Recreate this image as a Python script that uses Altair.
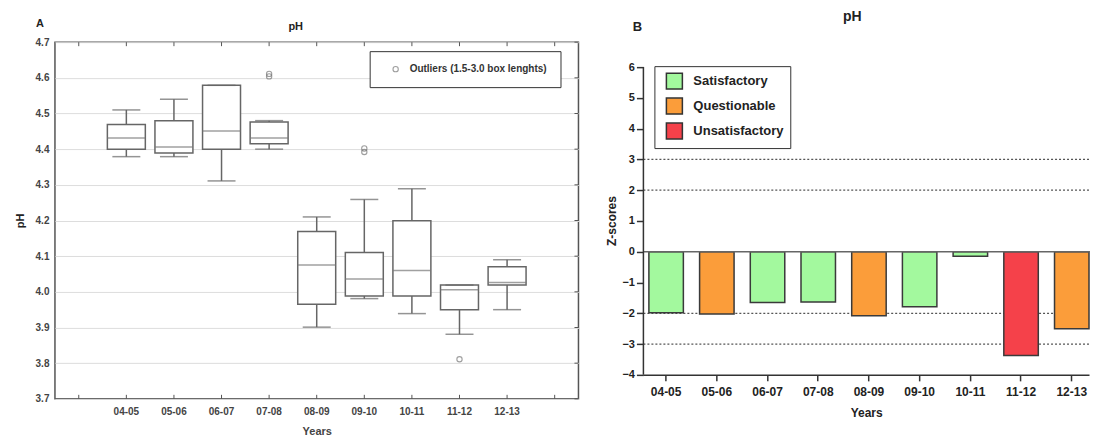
import altair as alt
import pandas as pd

FONT = "Liberation Sans"

# ---------------- data ----------------
years = ["04-05", "05-06", "06-07", "07-08", "08-09", "09-10", "10-11", "11-12", "12-13"]
whisker_low = [4.379, 4.379, 4.311, 4.400, 3.901, 3.981, 3.939, 3.881, 3.950]
q1 = [4.400, 4.389, 4.400, 4.415, 3.965, 3.988, 3.988, 3.950, 4.019]
median = [4.431, 4.406, 4.451, 4.431, 4.075, 4.036, 4.060, 4.006, 4.026]
q3 = [4.469, 4.480, 4.579, 4.476, 4.169, 4.110, 4.199, 4.019, 4.070]
whisker_high = [4.510, 4.540, 4.579, 4.480, 4.210, 4.259, 4.289, 4.019, 4.090]
outlier_years = ["07-08", "07-08", "09-10", "09-10", "11-12"]
outlier_values = [4.611, 4.604, 4.402, 4.392, 3.811]
outlier_label = "Outliers (1.5-3.0 box lenghts)"
ph_ticks = [3.7, 3.8, 3.9, 4.0, 4.1, 4.2, 4.3, 4.4, 4.5, 4.6, 4.7]

zscores = [-1.98, -2.02, -1.65, -1.63, -2.08, -1.79, -0.15, -3.37, -2.50]
ratings = ["Satisfactory", "Questionable", "Satisfactory", "Satisfactory", "Questionable",
           "Satisfactory", "Satisfactory", "Unsatisfactory", "Questionable"]
rating_order = ["Satisfactory", "Questionable", "Unsatisfactory"]
rating_colors = ["#a3f99e", "#fb9d3a", "#f5414a"]
limit_lines = [3, 2, -2, -3]
z_ticks = [-4, -3, -2, -1, 0, 1, 2, 3, 4, 5, 6]

# ---------------- panel A ----------------
WA, HA = 524, 357
domA = ["_a"] + years + ["_b"]
box_df = pd.DataFrame({"year": years, "lo": whisker_low, "q1": q1, "med": median,
                       "q3": q3, "hi": whisker_high})
out_df = pd.DataFrame({"year": outlier_years, "v": outlier_values,
                       "kind": [outlier_label] * len(outlier_values)})
slots_df = pd.DataFrame({"year": domA})
yt_df = pd.DataFrame({"v": ph_ticks})

xA = alt.X("year:N",
           scale=alt.Scale(domain=domA, paddingInner=0, paddingOuter=0),
           axis=alt.Axis(title="Years", labelExpr="indexof(datum.value, '_') >= 0 ? '' : datum.value",
                         ticks=False, domain=False, labelAngle=0, labelFont=FONT,
                         labelFontSize=10, labelFontWeight="bold", labelColor="#444",
                         labelPadding=8, titleFont=FONT, titleFontSize=11,
                         titleFontWeight="bold", titleColor="#444", titlePadding=9))
yscaleA = alt.Scale(domain=[3.7, 4.7], nice=False, zero=False)
yaxisA = alt.Axis(title="pH", values=ph_ticks, format=".1f", grid=True, gridColor="#dddddd",
                  gridWidth=1, ticks=False, domain=False, labelFont=FONT, labelFontSize=10,
                  labelFontWeight="bold", labelColor="#444", labelPadding=6,
                  titleFont=FONT, titleFontSize=11, titleFontWeight="bold",
                  titleColor="#222", titlePadding=10)

whisk = alt.Chart(box_df).mark_rule(color="#666", strokeWidth=1.5).encode(
    x=xA, y=alt.Y("lo:Q", scale=yscaleA, axis=yaxisA), y2="hi:Q")
box = alt.Chart(box_df).mark_bar(size=38, fill="white", stroke="#666", strokeWidth=1.5).encode(
    x=xA, y=alt.Y("q1:Q", scale=yscaleA, axis=yaxisA), y2="q3:Q")
med = alt.Chart(box_df).mark_tick(size=38, thickness=1.5, color="#777").encode(
    x=xA, y=alt.Y("med:Q", scale=yscaleA, axis=yaxisA))
cap_hi = alt.Chart(box_df).mark_tick(size=28, thickness=1.5, color="#666").encode(
    x=xA, y=alt.Y("hi:Q", scale=yscaleA, axis=yaxisA))
cap_lo = alt.Chart(box_df).mark_tick(size=28, thickness=1.5, color="#666").encode(
    x=xA, y=alt.Y("lo:Q", scale=yscaleA, axis=yaxisA))
outl = alt.Chart(out_df).mark_point(filled=False, size=28, strokeWidth=1.1, color="#777").encode(
    x=xA, y=alt.Y("v:Q", scale=yscaleA, axis=yaxisA),
    shape=alt.Shape("kind:N", scale=alt.Scale(range=["circle"]),
                    legend=alt.Legend(title=None, orient="none", legendX=315, legendY=9,
                                      strokeColor="#333", fillColor="white", padding=13,
                                      symbolOffset=8, symbolSize=28, symbolStrokeColor="#777",
                                      symbolStrokeWidth=1.1, labelFont=FONT, labelFontSize=10,
                                      labelFontWeight="bold", labelColor="#333", labelOffset=9)))
tick_bot = alt.Chart(slots_df).mark_rule(color="#555", strokeWidth=1).encode(
    x=xA, y=alt.value(HA), y2=alt.value(HA - 4))
tick_top = alt.Chart(slots_df).mark_rule(color="#555", strokeWidth=1).encode(
    x=xA, y=alt.value(0), y2=alt.value(4))
tick_right = alt.Chart(yt_df).mark_rule(color="#555", strokeWidth=1).encode(
    y=alt.Y("v:Q", scale=yscaleA, axis=yaxisA), x=alt.value(WA - 4), x2=alt.value(WA))
labA = alt.Chart(pd.DataFrame({"t": ["A"]})).mark_text(
    text="A", font=FONT, fontSize=11, fontWeight="bold", color="#222", align="center",
    baseline="middle").encode(x=alt.value(-15), y=alt.value(-18))
titleA = alt.Chart(pd.DataFrame({"t": ["pH"]})).mark_text(
    text="pH", font=FONT, fontSize=11, fontWeight="bold", color="#222", align="center",
    baseline="middle").encode(x=alt.value(241), y=alt.value(-15))

panelA = alt.layer(tick_right, whisk, box, med, cap_hi, cap_lo, outl, tick_bot, tick_top,
                   labA, titleA).properties(
    width=WA, height=HA,
    view=alt.ViewBackground(stroke="#555", strokeWidth=1.5))

# ---------------- panel B ----------------
WB, HB = 446, 357
bar_df = pd.DataFrame({"year": years, "z": zscores, "rating": ratings})
lim_df = pd.DataFrame({"v": limit_lines})
one_df = pd.DataFrame({"a": [0]})

yscaleB = alt.Scale(domain=[-4.78, 6.81], nice=False, zero=False)
yaxisB = alt.Axis(title="Z-scores", values=z_ticks, format="d", grid=False, domain=False,
                  ticks=True, tickSize=7, tickColor="#333", tickWidth=1.5, labelFont=FONT,
                  labelFontSize=11, labelFontWeight="bold", labelColor="#222", labelPadding=2,
                  labelOverlap=False, titleFont=FONT, titleFontSize=12, titleFontWeight="bold",
                  titleColor="#222", titlePadding=3)
xB = alt.X("year:N", sort=years,
           scale=alt.Scale(domain=years, paddingInner=0.32, paddingOuter=0.054, align=1),
           axis=alt.Axis(title="Years", labelAngle=0, offset=-24, domainColor="#333",
                         domainWidth=1.5, tickColor="#333", tickWidth=1.5, tickSize=6,
                         labelFont=FONT, labelFontSize=12, labelFontWeight="bold",
                         labelColor="#222", labelPadding=6, titleFont=FONT, titleFontSize=12,
                         titleFontWeight="bold", titleColor="#222", titlePadding=10))

lims = alt.Chart(lim_df).mark_rule(color="#555", strokeWidth=1.3, strokeDash=[2, 2]).encode(
    y=alt.Y("v:Q", scale=yscaleB, axis=yaxisB))
bars = alt.Chart(bar_df).mark_bar(stroke="#3a3a3a", strokeWidth=1.5).encode(
    x=xB, y=alt.Y("z:Q", scale=yscaleB, axis=yaxisB), y2=alt.datum(0),
    color=alt.Color("rating:N", scale=alt.Scale(domain=rating_order, range=rating_colors),
                    legend=alt.Legend(title=None, orient="none", legendX=11, legendY=24,
                                      symbolType="square", symbolSize=256,
                                      symbolStrokeColor="#333", symbolStrokeWidth=1.5,
                                      symbolOffset=5, symbolOpacity=1, labelFont=FONT,
                                      labelFontSize=13, labelFontWeight="bold",
                                      labelColor="#222", labelOffset=10,
                                      strokeColor="#333", fillColor="white", padding=6,
                                      rowPadding=3)))
zero = alt.Chart(one_df).mark_rule(color="#666", strokeWidth=1.5).encode(
    y=alt.datum(0, scale=yscaleB, axis=yaxisB))
yline = alt.Chart(one_df).mark_rule(color="#333", strokeWidth=1.5).encode(
    x=alt.value(0), y=alt.datum(6, scale=yscaleB, axis=yaxisB), y2=alt.datum(-4))
labB = alt.Chart(pd.DataFrame({"t": ["B"]})).mark_text(
    text="B", font=FONT, fontSize=13, fontWeight="bold", color="#222", align="center",
    baseline="middle").encode(x=alt.value(-6), y=alt.value(-15))
titleB = alt.Chart(pd.DataFrame({"t": ["pH"]})).mark_text(
    text="pH", font=FONT, fontSize=14, fontWeight="bold", color="#222", align="center",
    baseline="middle").encode(x=alt.value(209), y=alt.value(-25))

panelB = alt.layer(lims, bars, zero, yline, labB, titleB).properties(
    width=WB, height=HB,
    view=alt.ViewBackground(stroke="transparent", strokeWidth=0))

chart = alt.hconcat(panelA, panelB, spacing=65, bounds="flush").resolve_scale(
    x="independent", y="independent", color="independent", shape="independent"
).resolve_legend(color="independent", shape="independent").properties(
    padding={"left": 5, "top": 2, "right": 0, "bottom": 0}
).configure_view(strokeWidth=0).configure(background="white")

chart.save("out.html", embed_options={"renderer": "svg", "actions": False})
